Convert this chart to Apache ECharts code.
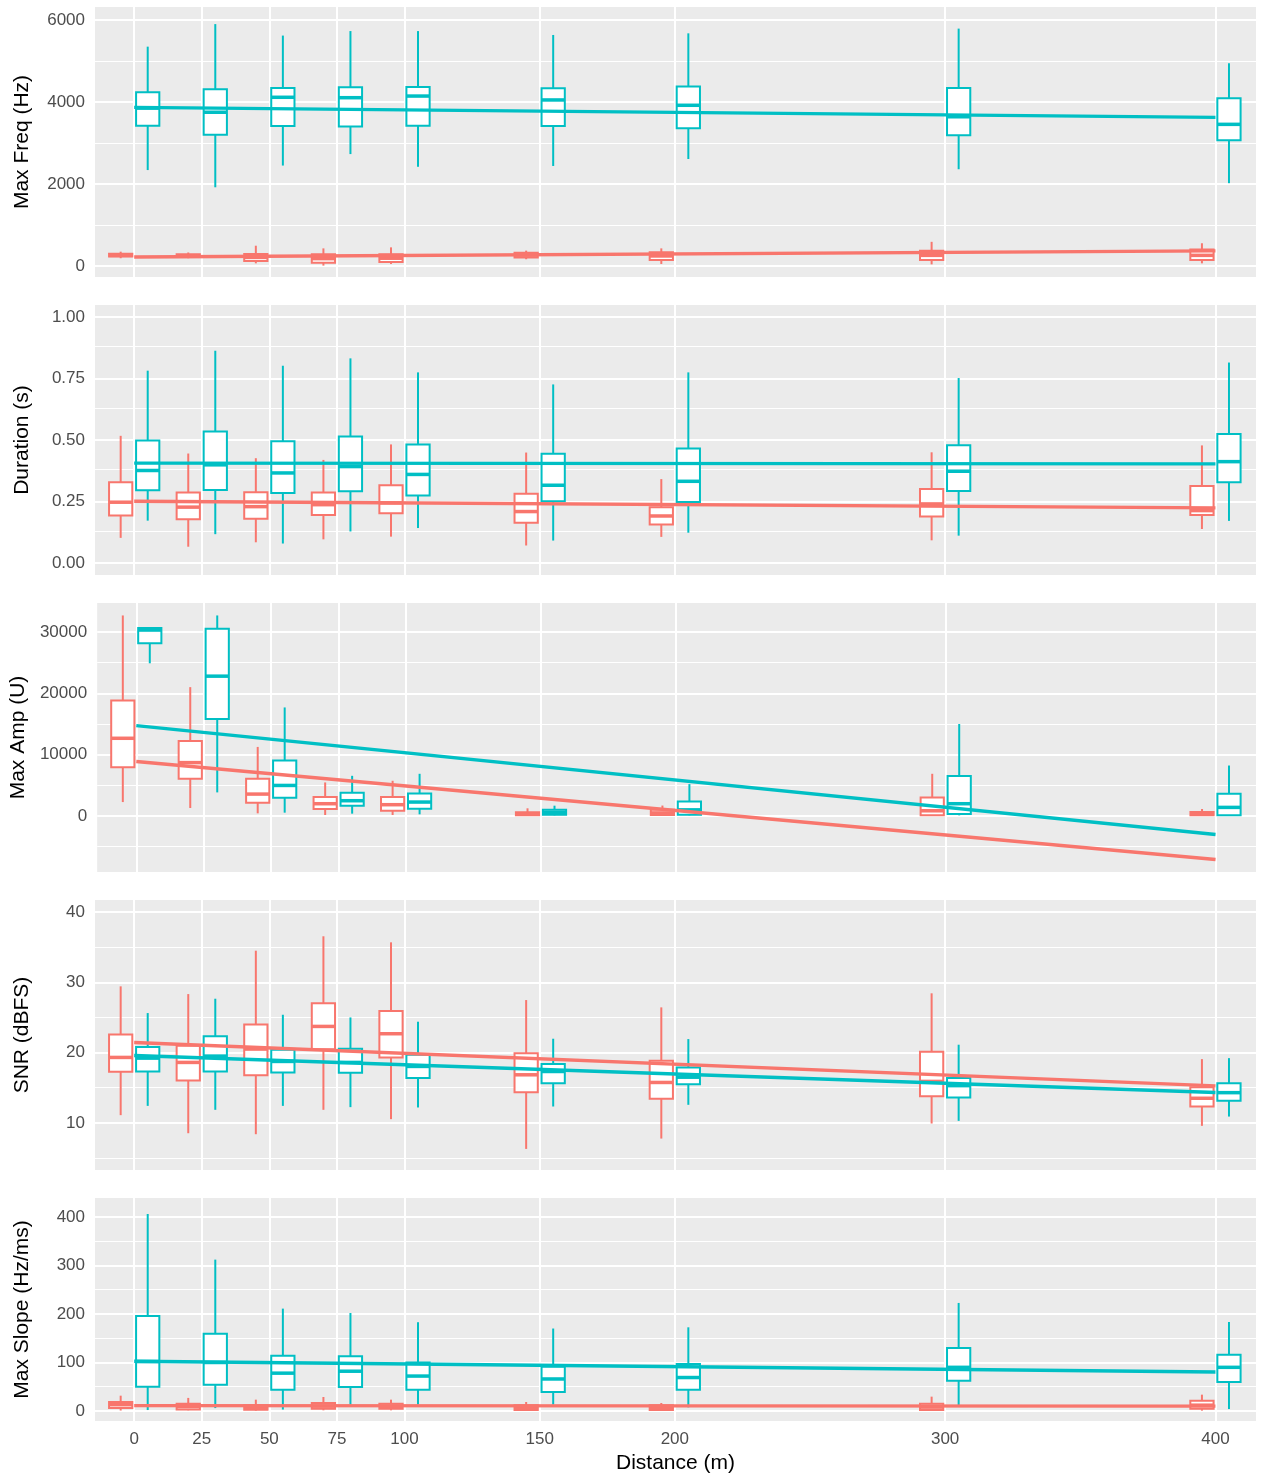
<!DOCTYPE html>
<html lang="en">
<head>
<meta charset="UTF-8" />
<title>Call parameters by distance</title>
<script src="https://cdn.jsdelivr.net/npm/echarts@6/dist/echarts.min.js"></script>
<style>
  html, body { margin: 0; padding: 0; background: #fff; }
  #chart { width: 1264px; height: 1476px; }
</style>
</head>
<body>
<div id="chart"></div>
<script>
const distances = [0, 25, 50, 75, 100, 150, 200, 300, 400];

// box stats per distance: [lower whisker, q1, median, q3, upper whisker]
const freqRed = [[190, 230, 260, 300, 350], [190, 225, 250, 285, 330], [65, 120, 210, 295, 495], [10, 80, 180, 285, 430], [50, 100, 190, 285, 455], [165, 210, 265, 325, 375], [50, 145, 245, 335, 430], [40, 145, 260, 375, 590], [65, 145, 260, 405, 555]];
const freqTeal = [[2340, 3420, 3850, 4240, 5350], [1920, 3200, 3750, 4310, 5900], [2450, 3415, 4115, 4340, 5620], [2730, 3400, 4105, 4360, 5730], [2420, 3420, 4145, 4365, 5730], [2440, 3415, 4050, 4335, 5635], [2610, 3360, 3920, 4380, 5675], [2360, 3190, 3640, 4340, 5790], [2020, 3065, 3455, 4090, 4945]];
const durRed = [[0.102, 0.193, 0.247, 0.328, 0.517], [0.066, 0.178, 0.227, 0.286, 0.445], [0.084, 0.180, 0.229, 0.288, 0.426], [0.096, 0.195, 0.237, 0.286, 0.419], [0.107, 0.202, 0.244, 0.316, 0.482], [0.071, 0.163, 0.209, 0.281, 0.449], [0.106, 0.156, 0.191, 0.227, 0.341], [0.092, 0.189, 0.240, 0.301, 0.450], [0.138, 0.195, 0.213, 0.313, 0.478]];
const durTeal = [[0.172, 0.296, 0.376, 0.498, 0.782], [0.117, 0.297, 0.399, 0.535, 0.863], [0.079, 0.284, 0.366, 0.495, 0.802], [0.128, 0.292, 0.392, 0.514, 0.832], [0.142, 0.274, 0.360, 0.482, 0.775], [0.091, 0.251, 0.316, 0.444, 0.726], [0.123, 0.248, 0.332, 0.465, 0.775], [0.111, 0.293, 0.373, 0.479, 0.752], [0.171, 0.328, 0.412, 0.524, 0.815]];
const ampRed = [[2270, 7960, 12670, 18840, 32700], [1300, 6065, 8700, 12240, 21010], [430, 2170, 3570, 6065, 11260], [160, 1140, 2000, 3090, 5470], [160, 870, 1840, 3090, 5740], [60, 110, 350, 600, 1250], [0, 150, 500, 1000, 1700], [0, 100, 850, 3030, 6880], [0, 100, 350, 650, 1140]];
const ampTeal = [[24900, 28160, 30320, 30650, 30750], [3845, 15810, 22800, 30540, 32700], [540, 2980, 4980, 9040, 17700], [380, 1680, 2490, 3790, 6550], [270, 1190, 2270, 3680, 6880], [100, 220, 600, 1030, 1680], [100, 220, 1000, 2380, 5200], [100, 330, 2000, 6500, 15000], [50, 110, 1400, 3630, 8230]];
const snrRed = [[11.1, 17.27, 19.31, 22.58, 29.42], [8.53, 16.03, 18.6, 20.97, 28.32], [8.39, 16.79, 20.5, 24.0, 34.49], [11.86, 20.49, 23.72, 27.0, 36.54], [10.53, 19.31, 22.68, 25.9, 35.68], [6.3, 14.37, 16.84, 19.92, 27.47], [7.77, 13.42, 15.75, 18.83, 26.43], [9.91, 13.8, 15.9, 20.11, 28.43], [9.58, 12.33, 13.5, 15.08, 19.07]];
const snrTeal = [[12.42, 17.31, 19.21, 20.78, 25.62], [11.86, 17.31, 19.5, 22.34, 27.66], [12.42, 17.17, 18.74, 20.4, 25.38], [12.24, 17.12, 18.6, 20.54, 25.0], [12.19, 16.37, 18.03, 19.69, 24.39], [12.33, 15.65, 17.31, 18.36, 21.97], [12.57, 15.51, 16.5, 17.88, 21.92], [10.29, 13.61, 15.3, 16.37, 21.12], [10.9, 13.14, 14.3, 15.65, 19.21]];
const slopeRed = [[1, 6, 13, 18.6, 31.6], [1.4, 3, 9, 15, 27], [0.7, 2.7, 6, 11.7, 23.4], [1.4, 4.8, 10, 16.5, 28.9], [1.4, 4.8, 9, 15, 23.4], [0.7, 2, 6, 11.7, 18.6], [0.7, 2, 6, 11.7, 16.5], [0.7, 2, 8, 15, 29.6], [0.7, 4.8, 12, 21.3, 33.7]];
const slopeTeal = [[2, 50, 102, 196, 406], [6, 54, 100, 159, 312], [3, 44, 78, 114, 211], [13, 49.5, 82, 112.7, 202], [13, 44, 72, 100, 183], [13, 39, 66, 91, 170], [7.6, 44, 69, 97, 172.5], [11.7, 62.5, 90, 130, 222.7], [4, 60, 90, 116, 183.5]];

// fitted line values at distance 0 and 400
const fitX = [0, 400];
const freqFit = { red: [220, 370], teal: [3870, 3625] };
const durFit = { red: [0.251, 0.224], teal: [0.406, 0.403] };
const ampFit = { red: [8880, -7090], teal: [14730, -3030] };
const snrFit = { red: [21.44, 15.27], teal: [19.59, 14.32] };
const slopeFit = { red: [11, 10], teal: [102.4, 80.4] };

// y tick labels and minor grid values
const freqTicks = [0, 2000, 4000, 6000], freqMinor = [1000, 3000, 5000];
const durTicks = [0, 0.25, 0.5, 0.75, 1], durMinor = [0.125, 0.375, 0.625, 0.875];
const ampTicks = [0, 10000, 20000, 30000], ampMinor = [-5000, 5000, 15000, 25000];
const snrTicks = [10, 20, 30, 40], snrMinor = [5, 15, 25, 35];
const slopeTicks = [0, 100, 200, 300, 400], slopeMinor = [50, 150, 250, 350];

const RED = '#F8766D', TEAL = '#00BFC4';
const dodge = 5, boxW = 8.6;

const panels = [
  { name: 'Max Freq (Hz)', red: freqRed, teal: freqTeal, fit: freqFit, ticks: freqTicks, minor: freqMinor, min: -268, max: 6317, top: 7, height: 270, fmt: v => String(v) },
  { name: 'Duration (s)', red: durRed, teal: durTeal, fit: durFit, ticks: durTicks, minor: durMinor, min: -0.049, max: 1.049, top: 305, height: 270, fmt: v => v.toFixed(2) },
  { name: 'Max Amp (U)', red: ampRed, teal: ampTeal, fit: ampFit, ticks: ampTicks, minor: ampMinor, min: -9135, max: 34730, top: 603, height: 269, fmt: v => String(v) },
  { name: 'SNR (dBFS)', red: snrRed, teal: snrTeal, fit: snrFit, ticks: snrTicks, minor: snrMinor, min: 3.3, max: 41.7, top: 900, height: 270, fmt: v => String(v) },
  { name: 'Max Slope (Hz/ms)', red: slopeRed, teal: slopeTeal, fit: slopeFit, ticks: slopeTicks, minor: slopeMinor, min: -20.6, max: 439, top: 1198, height: 223, fmt: v => String(v) }
];

function renderBox(params, api) {
  const x = api.value(0);
  const color = api.visual('color');
  const half = api.size([boxW, 0])[0] / 2;
  const lo = api.coord([x, api.value(1)]);
  const q1 = api.coord([x, api.value(2)]);
  const md = api.coord([x, api.value(3)]);
  const q3 = api.coord([x, api.value(4)]);
  const hi = api.coord([x, api.value(5)]);
  const cx = lo[0];
  return {
    type: 'group',
    children: [
      { type: 'line', shape: { x1: cx, y1: hi[1], x2: cx, y2: q3[1] }, style: { stroke: color, lineWidth: 2 } },
      { type: 'line', shape: { x1: cx, y1: q1[1], x2: cx, y2: lo[1] }, style: { stroke: color, lineWidth: 2 } },
      { type: 'rect', shape: { x: cx - half, y: q3[1], width: half * 2, height: q1[1] - q3[1] }, style: { fill: '#fff', stroke: color, lineWidth: 2 } },
      { type: 'line', shape: { x1: cx - half, y1: md[1], x2: cx + half, y2: md[1] }, style: { stroke: color, lineWidth: 3.5 } }
    ]
  };
}

const grid = [], xAxis = [], yAxis = [], series = [];
panels.forEach((p, i) => {
  const last = i === panels.length - 1;
  grid.push({ left: 95, right: 8, top: p.top, height: p.height, show: true, backgroundColor: '#EBEBEB', borderWidth: 0 });
  xAxis.push({
    gridIndex: i, type: 'value', min: -14.5, max: 415,
    axisLine: { show: false }, splitLine: { show: false },
    axisTick: { show: last, length: 5, lineStyle: { color: '#333' }, customValues: distances },
    axisLabel: { show: last, customValues: distances, color: '#4D4D4D', fontSize: 17, margin: 10 },
    name: last ? 'Distance (m)' : '', nameLocation: 'middle', nameGap: 32,
    nameTextStyle: { fontSize: 21, color: '#000' }
  });
  yAxis.push({
    gridIndex: i, type: 'value', min: p.min, max: p.max,
    axisLine: { show: false }, splitLine: { show: false },
    axisTick: { show: true, length: 5, lineStyle: { color: '#333' }, customValues: p.ticks },
    axisLabel: { customValues: p.ticks, color: '#4D4D4D', fontSize: 17, margin: 10, formatter: p.fmt },
    name: p.name, nameLocation: 'middle', nameGap: 62,
    nameTextStyle: { fontSize: 21, color: '#000' }
  });
  // panel grid lines, kept below the boxes
  series.push({
    type: 'line', xAxisIndex: i, yAxisIndex: i, data: [], z: 1,
    markLine: {
      z: 1, silent: true, symbol: ['none', 'none'], label: { show: false }, animation: false,
      lineStyle: { color: '#fff', type: 'solid' },
      data: [
        ...p.minor.map(v => ({ yAxis: v, lineStyle: { width: 1.2, color: '#fff', type: 'solid' } })),
        ...p.ticks.map(v => ({ yAxis: v, lineStyle: { width: 2, color: '#fff', type: 'solid' } })),
        ...distances.map(d => ({ xAxis: d, lineStyle: { width: 2, color: '#fff', type: 'solid' } }))
      ]
    }
  });
  [[p.red, -dodge, RED], [p.teal, dodge, TEAL]].forEach(([boxes, off, color]) => {
    series.push({
      type: 'custom', xAxisIndex: i, yAxisIndex: i, z: 3, clip: true,
      itemStyle: { color: color },
      renderItem: renderBox,
      encode: { x: 0, y: [1, 2, 3, 4, 5] },
      data: boxes.map((b, j) => [distances[j] + off, ...b])
    });
  });
  [[p.fit.red, RED], [p.fit.teal, TEAL]].forEach(([fit, color]) => {
    series.push({
      type: 'line', xAxisIndex: i, yAxisIndex: i, z: 6, showSymbol: false, symbol: 'none',
      lineStyle: { color: color, width: 3.4 },
      data: fitX.map((x, k) => [x, fit[k]])
    });
  });
});

const chart = echarts.init(document.getElementById('chart'));
chart.setOption({
  animation: false,
  textStyle: { fontFamily: 'Liberation Sans, Arial, sans-serif' },
  grid: grid,
  xAxis: xAxis,
  yAxis: yAxis,
  series: series
});
</script>
</body>
</html>
